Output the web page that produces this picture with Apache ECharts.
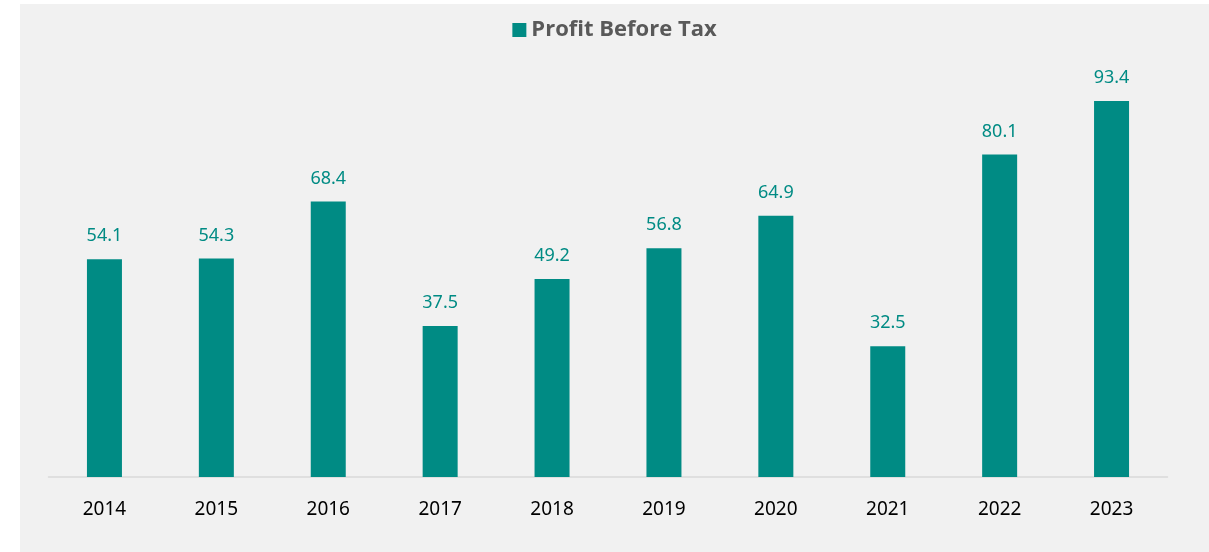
<!DOCTYPE html>
<html>
<head>
<meta charset="utf-8">
<script src="https://cdn.jsdelivr.net/npm/echarts@6/dist/echarts.min.js"></script>
<style>
  html, body { margin: 0; padding: 0; background: #fff; }
  #main { position: absolute; left: 20px; top: 4px; width: 1189px; height: 548px; background: #f1f1f1; }
</style>
</head>
<body>
<div id="main"></div>
<script>
// 年份和数值
var years = ['2014', '2015', '2016', '2017', '2018', '2019', '2020', '2021', '2022', '2023'];
var profitBeforeTax = [54.1, 54.3, 68.4, 37.5, 49.2, 56.8, 64.9, 32.5, 80.1, 93.4];
var seriesName = 'Profit Before Tax';

var teal = '#008b84';

var myChart = echarts.init(document.getElementById('main'));
myChart.setOption({
  animation: false,
  legend: {
    top: 10,
    left: 'center',
    itemWidth: 14,
    itemHeight: 14,
    itemGap: 6,
    icon: 'rect',
    textStyle: { fontFamily: 'Open Sans', fontWeight: 'bold', fontSize: 22, color: '#595959' },
    data: [seriesName]
  },
  grid: { left: 28.5, right: 41.5, top: 70.4, bottom: 75 },
  xAxis: {
    type: 'category',
    data: years,
    axisLine: { lineStyle: { color: '#d9d9d9', width: 1.5 } },
    axisTick: { show: false },
    axisLabel: { color: '#000', fontSize: 19, fontFamily: 'Noto Sans', margin: 23 }
  },
  yAxis: {
    type: 'value',
    min: 0,
    max: 100,
    show: false
  },
  series: [{
    name: seriesName,
    type: 'bar',
    barWidth: 35,
    data: profitBeforeTax,
    itemStyle: { color: teal },
    label: {
      show: true,
      position: 'top',
      distance: 14,
      color: teal,
      fontSize: 18,
      fontFamily: 'Noto Sans'
    }
  }]
});
</script>
</body>
</html>
